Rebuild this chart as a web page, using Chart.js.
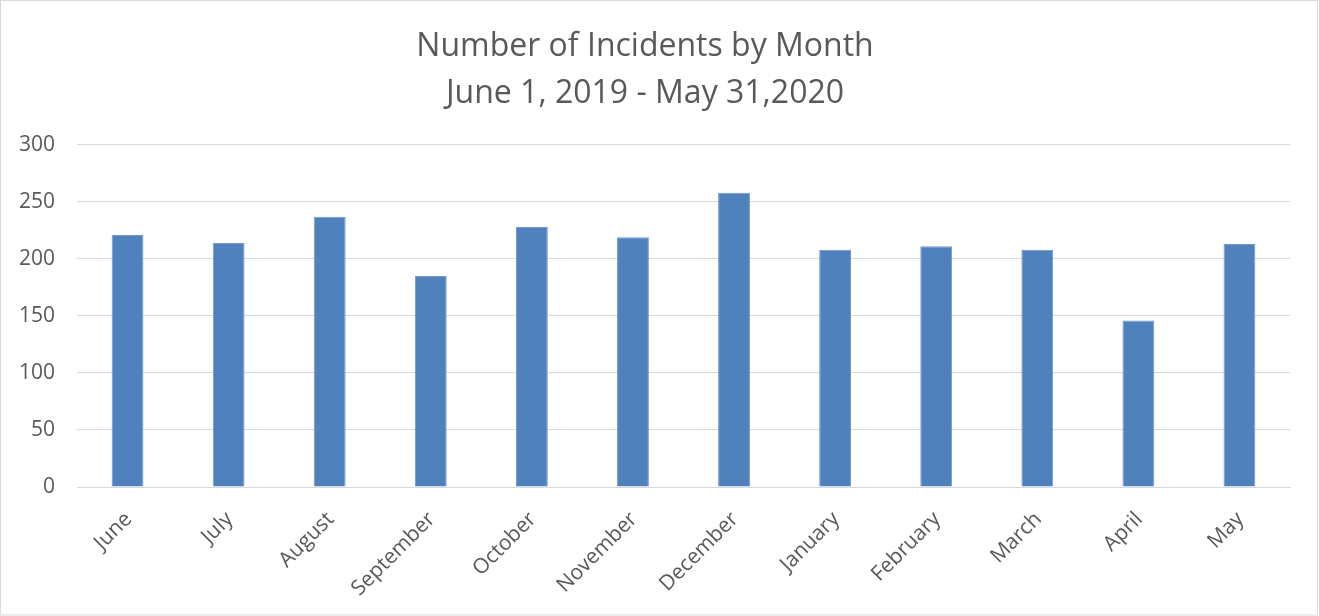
<!DOCTYPE html>
<html>
<head>
<meta charset="utf-8">
<script src="https://cdn.jsdelivr.net/npm/chart.js@4/dist/chart.umd.min.js"></script>
<style>
    html, body { margin: 0; padding: 0; background: #fff; }
    #wrap { width: 1319px; height: 616px; position: relative; }
</style>
</head>
<body>
<div id="wrap"><canvas id="chart"></canvas></div>
<script>
const months = ['June', 'July', 'August', 'September', 'October', 'November',
    'December', 'January', 'February', 'March', 'April', 'May'];
const incidents = [221, 214, 237, 185, 228, 219, 258, 208, 211, 208, 146, 213];
const titleLines = ['Number of Incidents by Month', 'June 1, 2019 - May 31,2020'];
const yTicks = [0, 50, 100, 150, 200, 250, 300];

const textColor = '#595959';
const gridColor = '#d9d9d9';

const frame = {
    id: 'frame',
    beforeDraw(chart) {
        const { ctx, width, height } = chart;
        ctx.save();
        ctx.fillStyle = '#fff';
        ctx.fillRect(0, 0, width, height);
        ctx.strokeStyle = gridColor;
        ctx.lineWidth = 1;
        ctx.strokeRect(0.5, 0.5, width - 2, height - 1.5);
        ctx.restore();
    },
};

new Chart(document.getElementById('chart'), {
    type: 'bar',
    data: {
        labels: months,
        datasets: [{
            data: incidents,
            backgroundColor: '#4f81bd',
            borderColor: '#7197cc',
            borderWidth: 1,
            barPercentage: 0.315,
            categoryPercentage: 1,
        }],
    },
    options: {
        responsive: true,
        maintainAspectRatio: false,
        animation: false,
        layout: { padding: { top: 24, left: 0, right: 29, bottom: 0 } },
        plugins: {
            legend: { display: false },
            tooltip: { enabled: false },
            title: {
                display: true,
                text: titleLines,
                color: textColor,
                font: { family: 'Open Sans', size: 32, weight: 'normal', lineHeight: 1.45 },
                padding: { top: 0, bottom: 28 },
            },
        },
        scales: {
            x: {
                afterFit(axis) { axis.height = 129; },
                grid: { display: false },
                border: { color: gridColor, width: 1 },
                ticks: {
                    color: textColor,
                    font: { family: 'Open Sans', size: 21 },
                    minRotation: 45,
                    maxRotation: 45,
                    labelOffset: 1,
                    padding: 12,
                },
            },
            y: {
                min: 0,
                max: 300,
                afterBuildTicks(axis) {
                    axis.ticks = yTicks.map(v => ({ value: v }));
                },
                afterFit(axis) { axis.width = 77; },
                grid: { color: gridColor, lineWidth: 1, drawTicks: false },
                border: { display: false },
                ticks: {
                    color: textColor,
                    font: { family: 'Open Sans', size: 21 },
                    padding: 22,
                },
            },
        },
    },
    plugins: [frame],
});
</script>
</body>
</html>
